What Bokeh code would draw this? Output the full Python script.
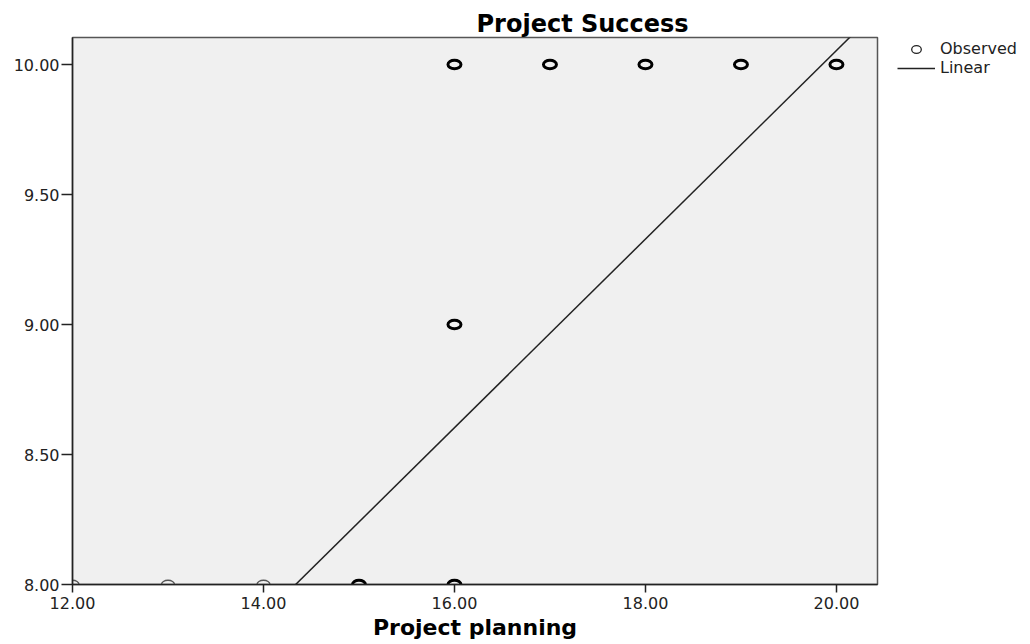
from bokeh.plotting import figure
from bokeh.layouts import row
from bokeh.models import (Range1d, FixedTicker, PrintfTickFormatter, Legend, LegendItem,
                          ColumnDataSource, Title)
from bokeh.embed import file_html
from bokeh.resources import INLINE

# ---- data ----
planning = [12, 13, 14, 15, 16, 16, 16, 17, 18, 19, 20]
success = [8, 8, 8, 8, 8, 9, 10, 10, 10, 10, 10]
n_obs = [1, 1, 1, 2, 3, 2, 3, 2, 2, 3, 3]
fit_intercept = 2.80
fit_slope = 0.3627
x_ticks = [12, 14, 16, 18, 20]
y_ticks = [8.0, 8.5, 9.0, 9.5, 10.0]
title_text = "Project Success"
x_label = "Project planning"
legend_labels = ["Observed", "Linear"]

FONT = "DejaVu Sans"

p = figure(width=895, height=644, output_backend="svg", toolbar_location=None,
           x_range=Range1d(12, 20.43), y_range=Range1d(8, 10.104),
           min_border_left=72, min_border_right=18, min_border_top=37, min_border_bottom=60)
p.title = None
t = Title(text=title_text, align="left", offset=404, text_font=FONT, text_font_size="24px",
          text_font_style="bold", text_color="#000000", standoff=0)
p.add_layout(t, "above")

p.background_fill_color = "#f0f0f0"
p.border_fill_color = "white"
p.outline_line_color = "#555555"
p.outline_line_width = 1.5
p.grid.visible = False

for ax in (p.xaxis[0], p.yaxis[0]):
    ax.axis_line_color = "#222222"
    ax.axis_line_width = 1.5
    ax.major_tick_line_color = "#222222"
    ax.major_tick_line_width = 1.5
    ax.major_tick_in = 0
    ax.minor_tick_line_color = None
    ax.major_label_text_font = FONT
    ax.major_label_text_font_size = "16px"
    ax.major_label_text_color = "#222222"
    ax.formatter = PrintfTickFormatter(format="%.2f")

p.xaxis.ticker = FixedTicker(ticks=x_ticks)
p.yaxis.ticker = FixedTicker(ticks=y_ticks)
p.xaxis.major_tick_out = 8
p.yaxis.major_tick_out = 11
p.xaxis.major_label_standoff = 4
p.yaxis.major_label_standoff = 2
p.xaxis.axis_label = x_label
p.xaxis.axis_label_text_font = FONT
p.xaxis.axis_label_text_font_size = "22px"
p.xaxis.axis_label_text_font_style = "bold"
p.xaxis.axis_label_text_color = "#000000"
p.xaxis.axis_label_standoff = 3

lw = [1.3 if n == 1 else 3 for n in n_obs]
col = ["#555555" if n == 1 else "#000000" for n in n_obs]
src = ColumnDataSource(dict(x=planning, y=success, lw=lw, col=col))
p.ellipse(x="x", y="y", width=13, height=8.5, width_units="screen", height_units="screen",
          source=src, fill_color=None, line_color="col", line_width="lw")

x_line = [x_ticks[0], 20.43]
y_line = [fit_intercept + fit_slope * v for v in x_line]
p.line(x_line, y_line, line_color="#222222", line_width=1.5)

# ---- legend panel (separate narrow figure to the right of the plot) ----
p2 = figure(width=135, height=644, output_backend="svg", toolbar_location=None,
            x_range=Range1d(0, 1), y_range=Range1d(0, 1),
            x_axis_type=None, y_axis_type=None,
            min_border_left=0, min_border_right=0, min_border_top=37, min_border_bottom=0)
p2.outline_line_color = None
p2.grid.visible = False
p2.background_fill_color = "white"
p2.border_fill_color = "white"
# proxies for the legend glyphs; their data lie outside this panel's ranges
obs_proxy = p2.ellipse(x=planning[:1], y=success[:1], width=10, height=8,
                       width_units="screen", height_units="screen",
                       fill_color=None, line_color="#222222", line_width=1.3)
lin_proxy = p2.line(x=x_line, y=y_line, line_color="#222222", line_width=1.5)

legend = Legend(items=[LegendItem(label=legend_labels[0], renderers=[obs_proxy]),
                       LegendItem(label=legend_labels[1], renderers=[lin_proxy])],
                location="top_left", margin=0, padding=2, spacing=0,
                glyph_width=38, glyph_height=12, label_height=18, label_standoff=5,
                label_text_font=FONT, label_text_font_size="16px", label_text_color="#222222",
                background_fill_alpha=0, border_line_alpha=0)
p2.add_layout(legend, "center")

open("out.html", "w").write(file_html(row(p, p2, spacing=0), INLINE))
